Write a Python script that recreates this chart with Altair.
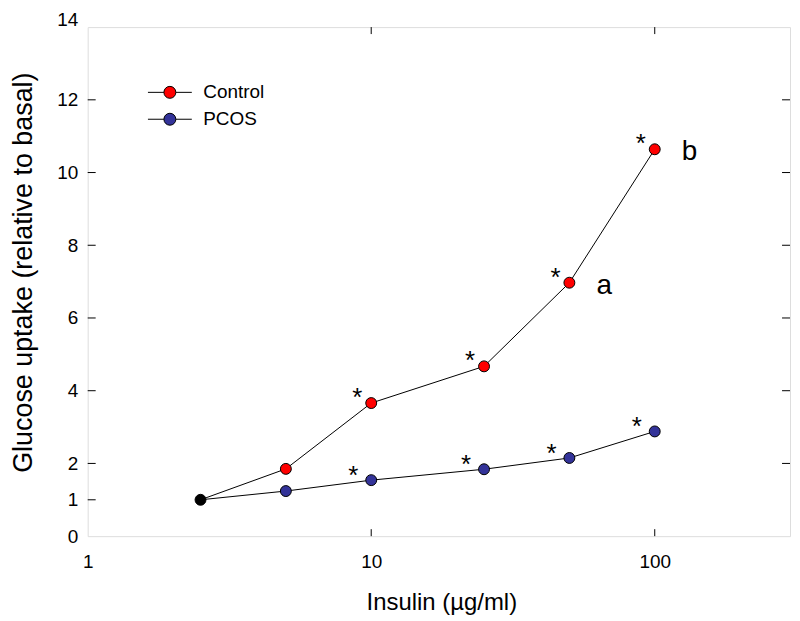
import altair as alt
import pandas as pd

# ---- data ----
insulin = [2.5, 5, 10, 25, 50, 100]
control = [1.0, 1.85, 3.66, 4.67, 6.97, 10.64]
pcos = [1.0, 1.24, 1.54, 1.84, 2.15, 2.88]
series_names = ["Control", "PCOS"]
series_colors = ["#ff0000", "#333399"]
star_x = [10, 25, 50, 100]
letters = ["a", "b"]
letter_x = [50, 100]
y_ticks = [0, 1, 2, 4, 6, 8, 10, 12, 14]
y_inner_left = [1, 2, 4, 6, 8, 10, 12]
y_inner_right = [2, 4, 6, 8, 10, 12]
x_ticks = [1, 10, 100]
x_inner = [10, 100]

W, H = 705, 511
FONT = "Liberation Sans, Arial"

lines_df = pd.DataFrame(
    [{"series": "Control", "x": x, "y": y} for x, y in zip(insulin, control)]
    + [{"series": "PCOS", "x": x, "y": y} for x, y in zip(insulin, pcos)]
)
pts_df = lines_df[lines_df["x"] > insulin[0]]
basal_df = pd.DataFrame({"x": [insulin[0]], "y": [control[0]]})
star_c_df = pd.DataFrame({"x": star_x, "y": [control[insulin.index(x)] for x in star_x]})
star_p_df = pd.DataFrame({"x": star_x, "y": [pcos[insulin.index(x)] for x in star_x]})
letter_df = pd.DataFrame(
    {"x": letter_x, "y": [control[insulin.index(x)] for x in letter_x], "t": letters}
)

xscale = alt.Scale(type="log", domain=[1, 300], nice=False)
yscale = alt.Scale(domain=[0, 14], nice=False, zero=False)

x_enc = alt.X(
    "x:Q", scale=xscale,
    axis=alt.Axis(values=x_ticks, format="d", title="Insulin (\u00b5g/ml)",
                  tickSize=0, labelPadding=16, labelFontSize=19, labelFont=FONT,
                  labelColor="black", labelFlush=False, domain=False, grid=False,
                  titleFontSize=24, titleFont=FONT, titleFontWeight="normal",
                  titleColor="black", titleY=74, titleX=355,
                  titleBaseline="alphabetic"),
)
y_enc = alt.Y(
    "y:Q", scale=yscale,
    axis=alt.Axis(values=y_ticks, title="Glucose uptake (relative to basal)",
                  tickSize=0, labelPadding=10, labelFontSize=19, labelFont=FONT,
                  labelColor="black", labelFlush=False, domain=False, grid=False,
                  labelOffset={"condition": {"test": "datum.value == 14", "value": -8}, "value": 0},
                  titleFontSize=27, titleFont=FONT, titleFontWeight="normal",
                  titleColor="black", titleX=-56, titleY=246,
                  titleBaseline="alphabetic"),
)

lines = alt.Chart(lines_df).mark_line(color="black", strokeWidth=1).encode(
    x=x_enc, y=y_enc, detail="series:N"
)

legend_path = "M-3.67,0L-1,0M1,0L3.67,0M1,0A1,1,0,1,1,-1,0A1,1,0,1,1,1,0Z"
points = alt.Chart(pts_df).mark_point(
    filled=True, size=120, stroke="black", strokeWidth=1, opacity=1, shape="circle"
).encode(
    x="x:Q", y="y:Q",
    fill=alt.Fill("series:N",
                  scale=alt.Scale(domain=series_names, range=series_colors),
                  legend=alt.Legend(orient="none", legendX=73, legendY=56, title=None,
                                    symbolType=legend_path, symbolSize=144,
                                    symbolStrokeColor="black", symbolStrokeWidth=1,
                                    symbolOpacity=1,
                                    labelFontSize=19, labelFont=FONT, labelColor="black",
                                    labelOffset=24, rowPadding=7, padding=0)),
)

basal = alt.Chart(basal_df).mark_point(
    filled=True, size=120, fill="black", stroke="black", strokeWidth=1, opacity=1, shape="circle"
).encode(x="x:Q", y="y:Q")

stars_c = alt.Chart(star_c_df).mark_text(
    text="*", fontSize=26, font=FONT, color="black", dx=-14, dy=3, baseline="alphabetic"
).encode(x="x:Q", y="y:Q")
stars_p = alt.Chart(star_p_df).mark_text(
    text="*", fontSize=26, font=FONT, color="black", dx=-18, dy=4, baseline="alphabetic"
).encode(x="x:Q", y="y:Q")

letter_marks = alt.Chart(letter_df).mark_text(
    fontSize=28, font=FONT, color="black", dx=35, dy=11, baseline="alphabetic"
).encode(x="x:Q", y="y:Q", text="t:N")

# inward tick marks on all four sides
tl = alt.Chart(pd.DataFrame({"y": y_inner_left})).mark_rule(color="black", strokeWidth=1).encode(
    y="y:Q", x=alt.value(0), x2=alt.value(8))
tr = alt.Chart(pd.DataFrame({"y": y_inner_right})).mark_rule(color="black", strokeWidth=1).encode(
    y="y:Q", x=alt.value(W - 8), x2=alt.value(W))
tb = alt.Chart(pd.DataFrame({"x": x_inner})).mark_rule(color="black", strokeWidth=1).encode(
    x="x:Q", y=alt.value(H - 7), y2=alt.value(H))
tt = alt.Chart(pd.DataFrame({"x": x_inner})).mark_rule(color="black", strokeWidth=1).encode(
    x="x:Q", y=alt.value(0), y2=alt.value(7))

chart = alt.layer(lines, tl, tr, tb, tt, points, basal, stars_c, stars_p, letter_marks).properties(
    width=W, height=H,
    autosize="none",
    padding={"left": 80, "top": 18, "right": 2, "bottom": 82},
).configure_view(stroke="black", strokeWidth=1).configure(background="white")

chart.save("out.html", embed_options={"renderer": "svg", "actions": False})
